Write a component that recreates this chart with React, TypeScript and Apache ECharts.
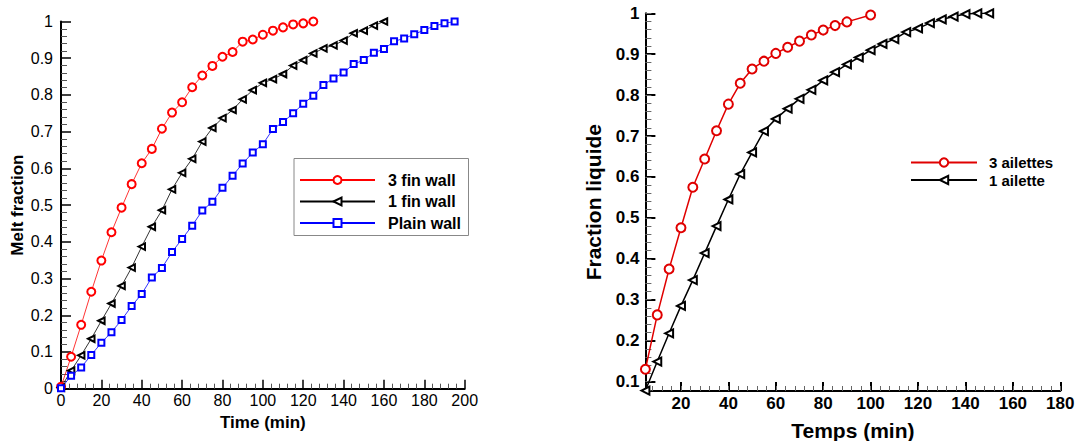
import React, { useEffect, useRef } from "react";
import * as echarts from "echarts";

const FONT = "'Liberation Sans', Arial, Helvetica, sans-serif";

// ---- Left chart data ----
const leftTimes = [0, 5, 10, 15, 20, 25, 30, 35, 40, 45, 50, 55, 60, 65, 70, 75, 80, 85, 90, 95, 100, 105, 110, 115, 120, 125, 130, 135, 140, 145, 150, 155, 160, 165, 170, 175, 180, 185, 190, 195];
const leftThreeFin = [0.005, 0.087, 0.174, 0.264, 0.349, 0.426, 0.493, 0.557, 0.614, 0.653, 0.708, 0.752, 0.780, 0.821, 0.853, 0.879, 0.904, 0.917, 0.945, 0.951, 0.964, 0.975, 0.984, 0.992, 0.995, 1.0];
const leftOneFin = [0.003, 0.049, 0.091, 0.136, 0.185, 0.232, 0.280, 0.330, 0.387, 0.441, 0.486, 0.543, 0.588, 0.626, 0.673, 0.710, 0.737, 0.759, 0.788, 0.813, 0.833, 0.843, 0.857, 0.880, 0.895, 0.913, 0.927, 0.935, 0.948, 0.968, 0.975, 0.989, 1.0];
const leftPlain = [0.001, 0.035, 0.058, 0.092, 0.125, 0.154, 0.187, 0.225, 0.258, 0.303, 0.329, 0.372, 0.408, 0.444, 0.485, 0.509, 0.547, 0.580, 0.613, 0.643, 0.666, 0.707, 0.726, 0.750, 0.776, 0.798, 0.827, 0.845, 0.861, 0.884, 0.895, 0.915, 0.925, 0.946, 0.954, 0.965, 0.977, 0.988, 0.995, 1.0];
const leftNames = ["3 fin wall", "1 fin wall", "Plain wall"];

// ---- Right chart data ----
const rightTimesThree = [5, 10, 15, 20, 25, 30, 35, 40, 45, 50, 55, 60, 65, 70, 75, 80, 85, 90, 100];
const rightThree = [0.130, 0.263, 0.375, 0.476, 0.575, 0.644, 0.713, 0.778, 0.829, 0.864, 0.883, 0.902, 0.917, 0.932, 0.947, 0.959, 0.970, 0.979, 0.996];
const rightTimesOne = [5, 10, 15, 20, 25, 30, 35, 40, 45, 50, 55, 60, 65, 70, 75, 80, 85, 90, 95, 100, 105, 110, 115, 120, 125, 130, 135, 140, 145, 150];
const rightOne = [0.078, 0.149, 0.218, 0.285, 0.348, 0.414, 0.480, 0.545, 0.607, 0.660, 0.712, 0.742, 0.767, 0.791, 0.813, 0.836, 0.856, 0.875, 0.892, 0.910, 0.925, 0.937, 0.954, 0.963, 0.976, 0.985, 0.992, 0.998, 1.0, 1.0];
const rightNames = ["3 ailettes", "1 ailette"];
const rightXTicks = [20, 40, 60, 80, 100, 120, 140, 160, 180];
const rightYTicks = [0.1, 0.2, 0.3, 0.4, 0.5, 0.6, 0.7, 0.8, 0.9, 1];

function stepTicks(start: number, end: number, step: number): number[] {
  const out: number[] = [];
  for (let v = start; v <= end + 1e-9; v += step) out.push(Math.round(v * 1000) / 1000);
  return out;
}
const rightXMinor = stepTicks(8, 180, 4);
const rightYMinor = stepTicks(0.08, 1, 0.02);

const pairs = (xs: number[], ys: number[]) => ys.map((y, i) => [xs[i], y]);

export default function App() {
  const ref = useRef<HTMLDivElement>(null);
  useEffect(() => {
    if (!ref.current) return;
    const chart = echarts.init(ref.current, undefined, { renderer: "svg" });
    const leftLabel = { fontFamily: FONT, fontSize: 16, color: "#000" };
    const rightLabel = { fontFamily: FONT, fontSize: 17, fontWeight: "bold", color: "#000" };
    const option: any = {
      animation: false,
      backgroundColor: "#fff",
      grid: [
        { left: 61, top: 21.5, width: 403.7, height: 367.2, containLabel: false, outerBoundsMode: "none" },
        { left: 645.4, top: 13.3, width: 414.9, height: 377.7, containLabel: false, outerBoundsMode: "none" },
      ],
      xAxis: [
        {
          gridIndex: 0, type: "value", min: 0, max: 200, interval: 20,
          name: "Time (min)", nameLocation: "middle", nameGap: 21,
          nameTextStyle: { fontFamily: FONT, fontWeight: "bold", fontSize: 17, color: "#000" },
          axisLine: { lineStyle: { color: "#000", width: 2 } },
          axisTick: { inside: true, length: 9, lineStyle: { color: "#000", width: 1.5 } },
          minorTick: { show: true, splitNumber: 5, length: 5, lineStyle: { color: "#555", width: 1 } },
          axisLabel: { ...leftLabel, margin: 4 },
          splitLine: { show: false },
        },
        {
          gridIndex: 1, type: "value", min: 5, max: 180,
          name: "Temps (min)", nameLocation: "middle", nameGap: 28.5,
          nameTextStyle: { fontFamily: FONT, fontWeight: "bold", fontSize: 21, color: "#000" },
          axisLine: { lineStyle: { color: "#000", width: 2 } },
          axisTick: { inside: true, length: 9, customValues: rightXTicks, lineStyle: { color: "#000", width: 2 } },
          axisLabel: { ...rightLabel, margin: 4, customValues: rightXTicks },
          splitLine: { show: false },
        },
        {
          gridIndex: 1, type: "value", min: 5, max: 180, position: "bottom",
          axisLine: { show: false },
          axisTick: { inside: true, length: 5, customValues: rightXMinor, lineStyle: { color: "#666", width: 1 } },
          axisLabel: { show: false },
          splitLine: { show: false },
        },
      ],
      yAxis: [
        {
          gridIndex: 0, type: "value", min: 0, max: 1, interval: 0.1,
          name: "Melt fraction", nameLocation: "middle", nameGap: 35,
          nameTextStyle: { fontFamily: FONT, fontWeight: "bold", fontSize: 17, color: "#000" },
          axisLine: { show: true, lineStyle: { color: "#000", width: 2 } },
          axisTick: { show: true, inside: true, length: 10, lineStyle: { color: "#000", width: 1.5 } },
          minorTick: { show: true, splitNumber: 5, length: 6, lineStyle: { color: "#555", width: 1 } },
          axisLabel: { ...leftLabel, margin: 8 },
          splitLine: { show: false },
        },
        {
          gridIndex: 1, type: "value", min: 0.077, max: 1,
          name: "Fraction liquide", nameLocation: "middle", nameGap: 41,
          nameTextStyle: { fontFamily: FONT, fontWeight: "bold", fontSize: 21, color: "#000" },
          axisLine: { show: true, lineStyle: { color: "#000", width: 2 } },
          axisTick: { show: true, inside: true, length: 10, customValues: rightYTicks, lineStyle: { color: "#000", width: 2 } },
          axisLabel: { ...rightLabel, margin: 6, customValues: rightYTicks },
          splitLine: { show: false },
        },
        {
          gridIndex: 1, type: "value", min: 0.077, max: 1, position: "left",
          axisLine: { show: false },
          axisTick: { show: true, inside: true, length: 6, customValues: rightYMinor, lineStyle: { color: "#666", width: 1 } },
          axisLabel: { show: false },
          splitLine: { show: false },
        },
      ],
      legend: [
        {
          data: leftNames, orient: "vertical", left: 299, top: 172, padding: 0,
          itemWidth: 75, itemHeight: 10, itemGap: 5.5,
          textStyle: { fontFamily: FONT, fontWeight: "bold", fontSize: 16, color: "#000", padding: [0, 0, 0, 8] },
        },
        {
          data: rightNames, orient: "vertical", left: 910, top: 155, padding: 0,
          itemWidth: 66, itemHeight: 10.5, itemGap: 2.5,
          textStyle: { fontFamily: FONT, fontWeight: "bold", fontSize: 15, color: "#000", padding: [0, 0, 0, 7] },
        },
      ],
      graphic: [
        {
          type: "rect", left: 293.5, top: 158, z: -1,
          shape: { width: 174.5, height: 77 },
          style: { fill: "#fff", stroke: "#888", lineWidth: 1 },
        },
      ],
      series: [
        {
          name: leftNames[0], type: "line", xAxisIndex: 0, yAxisIndex: 0,
          data: pairs(leftTimes, leftThreeFin),
          symbol: "emptyCircle", symbolSize: 8,
          lineStyle: { color: "#ff0000", width: 0.8 },
          itemStyle: { color: "#ff0000", borderWidth: 1 },
        },
        {
          name: leftNames[1], type: "line", xAxisIndex: 0, yAxisIndex: 0,
          data: pairs(leftTimes, leftOneFin),
          symbol: "emptyTriangle", symbolRotate: 90, symbolSize: 6.5,
          lineStyle: { color: "#000", width: 0.8 },
          itemStyle: { color: "#000", borderWidth: 1 },
        },
        {
          name: leftNames[2], type: "line", xAxisIndex: 0, yAxisIndex: 0,
          data: pairs(leftTimes, leftPlain),
          symbol: "emptyRect", symbolSize: 6,
          lineStyle: { color: "#0000ff", width: 0.8 },
          itemStyle: { color: "#0000ff", borderWidth: 1.2 },
        },
        {
          name: rightNames[0], type: "line", xAxisIndex: 1, yAxisIndex: 1,
          data: pairs(rightTimesThree, rightThree),
          symbol: "emptyCircle", symbolSize: 9,
          lineStyle: { color: "#e00000", width: 1.5 },
          itemStyle: { color: "#e00000", borderWidth: 1.2 },
        },
        {
          name: rightNames[1], type: "line", xAxisIndex: 1, yAxisIndex: 1,
          data: pairs(rightTimesOne, rightOne),
          symbol: "emptyTriangle", symbolRotate: 90, symbolSize: 8,
          lineStyle: { color: "#000", width: 1.5 },
          itemStyle: { color: "#000", borderWidth: 1.2 },
        },
      ],
    };
    chart.setOption(option);
    return () => chart.dispose();
  }, []);
  return (
    <div
      ref={ref}
      style={{ position: "absolute", left: 0, top: 0, width: 1078, height: 441, background: "#fff" }}
    />
  );
}
